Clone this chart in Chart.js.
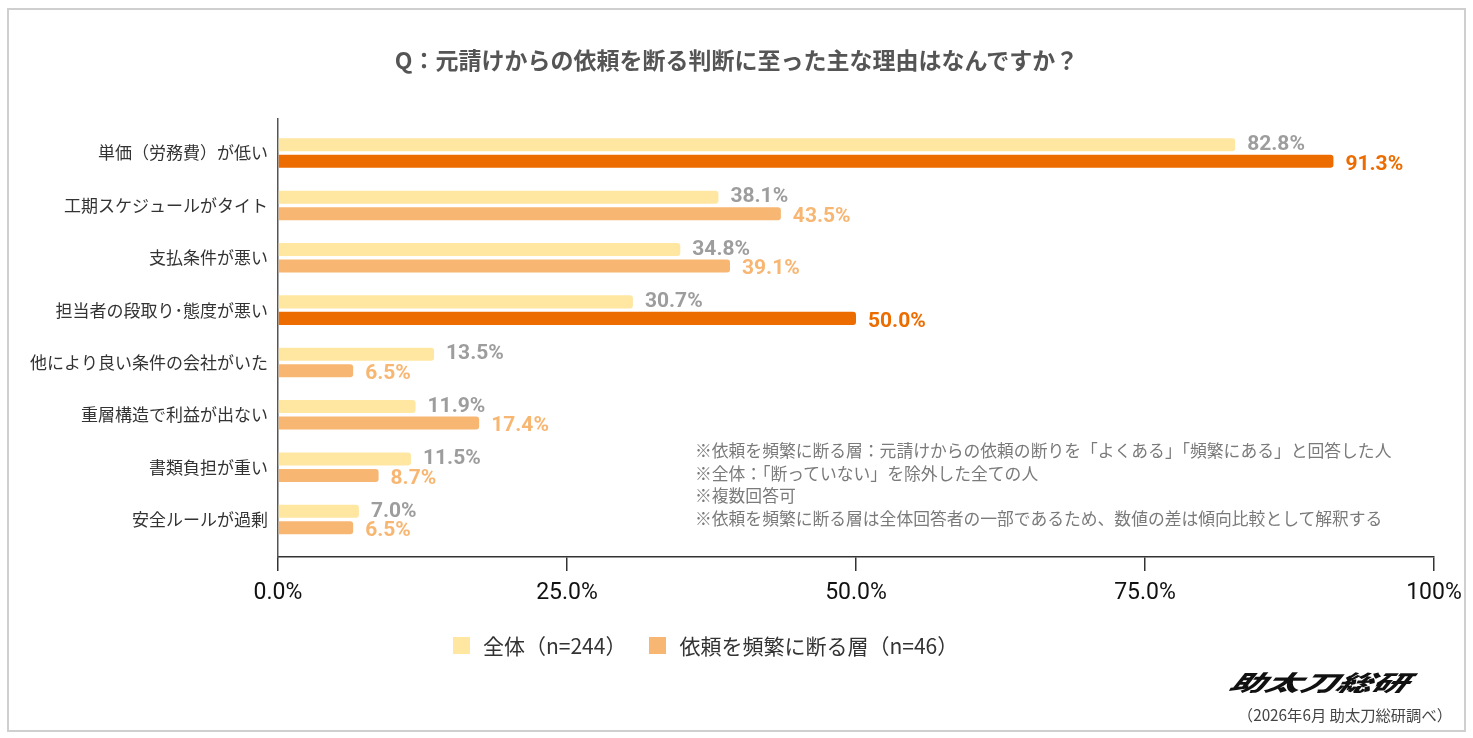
<!DOCTYPE html>
<html lang="ja">
<head>
<meta charset="utf-8">
<script src="https://cdn.jsdelivr.net/npm/chart.js@4.4.1/dist/chart.umd.min.js"></script>
<style>
html,body{margin:0;padding:0;background:#fff;}
#wrap{position:relative;width:1473px;height:738px;overflow:hidden;font-family:"Noto Sans CJK JP","Noto Sans",sans-serif;}
#frame{position:absolute;left:7px;top:8px;width:1459px;height:724px;border:2px solid #cfcfcf;box-sizing:border-box;}
#chart{position:absolute;left:0;top:0;}
#title{position:absolute;left:0;top:45px;width:1473px;text-align:center;font-size:23px;font-weight:bold;color:#555;line-height:28px;white-space:nowrap;}
#notes{position:absolute;left:695px;top:439px;font-size:16.8px;line-height:22.7px;color:#7a7a7a;white-space:nowrap;}
#legend{position:absolute;left:453px;top:630px;height:30px;display:flex;align-items:center;font-size:21px;color:#333;white-space:nowrap;}
#legend .item{display:flex;align-items:center;margin-right:23px;}
#legend .box{width:17px;height:17px;margin-right:13px;}
#logo{position:absolute;left:1226px;top:668px;font-size:22px;font-weight:900;font-style:italic;color:#111;letter-spacing:0px;transform:scaleX(1.62) skewX(-14deg);transform-origin:left bottom;line-height:26px;white-space:nowrap;}
#source{position:absolute;right:21px;top:703px;font-size:15.3px;color:#444;line-height:22px;white-space:nowrap;}
</style>
</head>
<body>
<div id="wrap">
  <div id="frame"></div>
  <canvas id="chart" width="1473" height="738"></canvas>
  <div id="title"></div>
  <div id="notes"></div>
  <div id="legend"></div>
  <div id="logo">助太刀総研</div>
  <div id="source">（2026年6月 助太刀総研調べ）</div>
</div>
<script>
// ---- data ----
const titleText = 'Q：元請けからの依頼を断る判断に至った主な理由はなんですか？';
const categories = [
  '単価（労務費）が低い',
  '工期スケジュールがタイト',
  '支払条件が悪い',
  '担当者の段取り･態度が悪い',
  '他により良い条件の会社がいた',
  '重層構造で利益が出ない',
  '書類負担が重い',
  '安全ルールが過剰'
];
const overallValues = [82.8, 38.1, 34.8, 30.7, 13.5, 11.9, 11.5, 7.0];
const frequentValues = [91.3, 43.5, 39.1, 50.0, 6.5, 17.4, 8.7, 6.5];
const seriesNames = ['全体（n=244）', '依頼を頻繁に断る層（n=46）'];
const xTickValues = [0, 25, 50, 75, 100];
const noteLines = [
  '※依頼を頻繁に断る層：元請けからの依頼の断りを「よくある」「頻繁にある」と回答した人',
  '※全体：「断っていない」を除外した全ての人',
  '※複数回答可',
  '※依頼を頻繁に断る層は全体回答者の一部であるため、数値の差は傾向比較として解釈する'
];

// ---- styles ----
const COL_OVERALL = '#FFE6A1';
const COL_FREQ = '#F7B672';
const COL_FREQ_HI = '#ED6C00';
const LBL_OVERALL = '#9d9d9d';
const JP = '"Noto Sans CJK JP", "Noto Sans", sans-serif';

document.getElementById('title').textContent = titleText;
document.getElementById('notes').innerHTML = noteLines.map(t => '<div>' + t + '</div>').join('');
const legendColors = [COL_OVERALL, COL_FREQ];
document.getElementById('legend').innerHTML = seriesNames.map((n, i) =>
  '<div class="item"><span class="box" style="background:' + legendColors[i] + '"></span><span>' + n + '</span></div>').join('');

const freqColor = v => (v >= 50 ? COL_FREQ_HI : COL_FREQ);

const valueLabels = {
  id: 'valueLabels',
  afterDatasetsDraw(chart) {
    const ctx = chart.ctx;
    chart.data.datasets.forEach((ds, di) => {
      const meta = chart.getDatasetMeta(di);
      meta.data.forEach((bar, i) => {
        const v = ds.data[i].x;
        const txt = v.toFixed(1) + '%';
        const x = bar.x + 12;
        const y = bar.y + (di === 1 ? 3 : 0);
        ctx.save();
        ctx.font = 'bold 21px Roboto, "Noto Sans", sans-serif';
        ctx.textAlign = 'left';
        ctx.textBaseline = 'middle';
        ctx.lineJoin = 'round';
        ctx.lineWidth = 4;
        ctx.strokeStyle = '#ffffff';
        ctx.strokeText(txt, x, y);
        ctx.fillStyle = di === 0 ? LBL_OVERALL : freqColor(v);
        ctx.fillText(txt, x, y);
        ctx.restore();
      });
    });
  }
};

new Chart(document.getElementById('chart'), {
  type: 'bar',
  data: {
    datasets: [
      {
        label: seriesNames[0],
        data: overallValues.map((v, i) => ({ x: v, y: i })),
        backgroundColor: COL_OVERALL,
        borderRadius: 3,
        categoryPercentage: 0.63,
        barPercentage: 0.79
      },
      {
        label: seriesNames[1],
        data: frequentValues.map((v, i) => ({ x: v, y: i })),
        backgroundColor: c => freqColor(c.raw ? c.raw.x : 0),
        borderRadius: 3,
        categoryPercentage: 0.63,
        barPercentage: 0.79
      }
    ]
  },
  options: {
    indexAxis: 'y',
    responsive: false,
    animation: false,
    layout: { padding: { left: 8, right: 39, top: 119, bottom: 131 } },
    plugins: {
      legend: { display: false },
      tooltip: { enabled: false },
      title: { display: false }
    },
    scales: {
      x: {
        type: 'linear',
        position: 'bottom',
        min: 0,
        max: 100,
        afterBuildTicks: s => { s.ticks = xTickValues.map(v => ({ value: v })); },
        afterFit: s => { s.height = 50; },
        ticks: {
          callback: v => (v === 100 ? '100%' : v.toFixed(1) + '%'),
          color: '#111111',
          font: { size: 23, family: 'Roboto' },
          padding: 8,
          maxRotation: 0,
          autoSkip: false
        },
        grid: { drawOnChartArea: false, tickLength: 14, color: '#333333', lineWidth: 1.5 },
        border: { color: '#333333', width: 1.5 }
      },
      y: {
        type: 'linear',
        reverse: true,
        offset: false,
        min: -0.65,
        max: 7.715,
        afterBuildTicks: s => { s.ticks = categories.map((_, i) => ({ value: i })); },
        afterFit: s => { s.width = 270; },
        ticks: {
          callback: v => categories[v],
          color: '#333333',
          font: { size: 17, family: JP },
          padding: 10,
          autoSkip: false
        },
        grid: { display: false, drawTicks: false, offset: false },
        border: { display: true, color: '#555555', width: 1.5 }
      }
    }
  },
  plugins: [valueLabels]
});
</script>
</body>
</html>
